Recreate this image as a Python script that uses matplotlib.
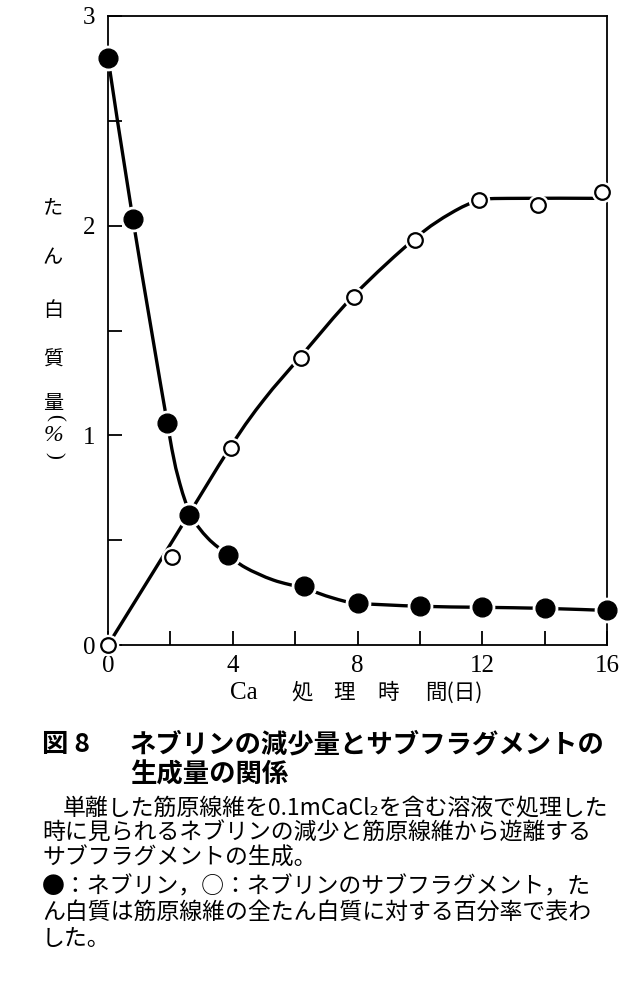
import matplotlib
matplotlib.use("Agg")
import matplotlib.pyplot as plt
from matplotlib.path import Path
from matplotlib.patches import PathPatch
import numpy as np

# ---- data ----
days_nebulin = [0, 0.8, 1.9, 2.6, 3.85, 6.3, 8, 10, 12, 14, 16]
nebulin = [2.80, 2.03, 1.06, 0.62, 0.43, 0.28, 0.20, 0.185, 0.18, 0.175, 0.167]

days_sub = [0, 2.05, 3.95, 6.2, 7.9, 9.85, 11.9, 13.8, 15.85]
subfragment = [0.0, 0.42, 0.94, 1.37, 1.66, 1.93, 2.12, 2.10, 2.16]

# hand-drawn fitted curves
neb_curve_x = [0, 0.8, 1.9, 2.25, 2.66, 3.2, 3.85, 4.4, 5.3, 6.3, 7.2, 8, 10, 12, 14, 16]
neb_curve_y = [2.80, 2.03, 1.06, 0.80, 0.62, 0.51, 0.43, 0.37, 0.31, 0.27, 0.225, 0.20, 0.185, 0.18, 0.175, 0.165]
sub_curve_x = [0, 2.0, 3.95, 5.0, 6.2, 7.9, 9.85, 11.0, 11.9, 12.8, 16]
sub_curve_y = [0.0, 0.48, 0.95, 1.17, 1.38, 1.67, 1.94, 2.06, 2.12, 2.13, 2.13]

x_major = [0, 4, 8, 12, 16]
x_minor = [2, 6, 10, 14]
y_major = [0, 1, 2, 3]
y_minor = [0.5, 1.5, 2.5]

xlabel_parts = ["Ca", "処", "理", "時", "間(日)"]
ylabel_chars = ["た", "ん", "白", "質", "量"]
title_num = "図 8"
title_l1 = "ネブリンの減少量とサブフラグメントの"
title_l2 = "生成量の関係"
body = [
    "単離した筋原線維を0.1mCaCl₂を含む溶液で処理した",
    "時に見られるネブリンの減少と筋原線維から遊離する",
    "サブフラグメントの生成。",
    "●：ネブリン，○：ネブリンのサブフラグメント，た",
    "ん白質は筋原線維の全たん白質に対する百分率で表わ",
    "した。",
]

JP = ["Noto Sans CJK JP", "DejaVu Sans"]
SERIF = "Liberation Serif"


def smooth_path(xs, ys):
    pts = np.column_stack([xs, ys]).astype(float)
    verts = [pts[0]]
    codes = [Path.MOVETO]
    n = len(pts)
    for i in range(n - 1):
        p0 = pts[i - 1] if i > 0 else pts[i]
        p1 = pts[i]
        p2 = pts[i + 1]
        p3 = pts[i + 2] if i + 2 < n else pts[i + 1]
        c1 = p1 + (p2 - p0) / 6.0
        c2 = p2 - (p3 - p1) / 6.0
        verts += [c1, c2, p2]
        codes += [Path.CURVE4] * 3
    return Path(verts, codes)


fig = plt.figure(figsize=(6.39, 9.97), dpi=100)
ax = fig.add_axes([0.169, 0.353, 0.781, 0.631])
ax.set_xlim(0, 16)
ax.set_ylim(0, 3)

lw = 2.4
ax.add_patch(PathPatch(smooth_path(neb_curve_x, neb_curve_y), fill=False,
                       lw=lw, color="black", capstyle="round", zorder=2))
ax.add_patch(PathPatch(smooth_path(sub_curve_x, sub_curve_y), fill=False,
                       lw=lw, color="black", capstyle="round", zorder=2))

# white halos to create gaps around markers
ax.plot(days_nebulin, nebulin, "o", ms=17.5, color="white", mec="white", zorder=3, clip_on=False)
ax.plot(days_sub, subfragment, "o", ms=14.5, color="white", mec="white", zorder=3, clip_on=False)
ax.plot(days_nebulin, nebulin, "o", ms=13.5, color="black", mec="black", zorder=4, clip_on=False)
ax.plot(days_sub, subfragment, "o", ms=10.5, mfc="white", mec="black", mew=1.6, zorder=4, clip_on=False)

for s in ax.spines.values():
    s.set_linewidth(1.3)

ax.set_xticks(x_major)
ax.set_xticks(x_minor, minor=True)
ax.set_yticks(y_major)
ax.set_yticks(y_minor, minor=True)
ax.tick_params(which="both", direction="in", length=10, width=1.3, top=False, right=False)
ax.tick_params(axis="x", which="major", labelsize=18, pad=7)
ax.tick_params(axis="y", which="major", labelsize=18, pad=9)
for lab in ax.get_xticklabels() + ax.get_yticklabels():
    lab.set_fontfamily(SERIF)

# x label (spaced pieces)
xl_pos = [244, 302, 344, 388, 454]
for part, xp in zip(xlabel_parts, xl_pos):
    fam = SERIF if part == "Ca" else JP
    fs = 18 if part == "Ca" else 15.5
    fig.text(xp / 639, 1 - 693 / 997, part, ha="center", va="center", fontsize=fs, family=fam)

# y label (vertical stacked)
ys = [208, 258, 310, 360, 403]
for ch, yp in zip(ylabel_chars, ys):
    fig.text(53 / 639, 1 - yp / 997, ch, ha="center", va="center", fontsize=14.5, family=JP)
fig.text(54 / 639, 1 - 417 / 997, "(", ha="center", va="center", fontsize=15,
         family=SERIF, rotation=-90)
fig.text(53 / 639, 1 - 435 / 997, "%", ha="center", va="center", fontsize=17, family=SERIF, style="italic")
fig.text(54 / 639, 1 - 455 / 997, ")", ha="center", va="center", fontsize=15,
         family=SERIF, rotation=-90)

# caption
fig.text(42 / 639, 1 - 745 / 997, title_num, ha="left", va="center", fontsize=19,
         family=JP, weight="bold")
fig.text(130 / 639, 1 - 745 / 997, title_l1, ha="left", va="center", fontsize=19,
         family=JP, weight="bold")
fig.text(130 / 639, 1 - 775 / 997, title_l2, ha="left", va="center", fontsize=19,
         family=JP, weight="bold")

body_y = [808, 833, 858, 887, 912, 938]
for i, (line, yp) in enumerate(zip(body, body_y)):
    xp = 63 if i == 0 else 42
    fig.text(xp / 639, 1 - yp / 997, line, ha="left", va="center", fontsize=16.5, family=JP)

fig.savefig("out.png", dpi=100)
